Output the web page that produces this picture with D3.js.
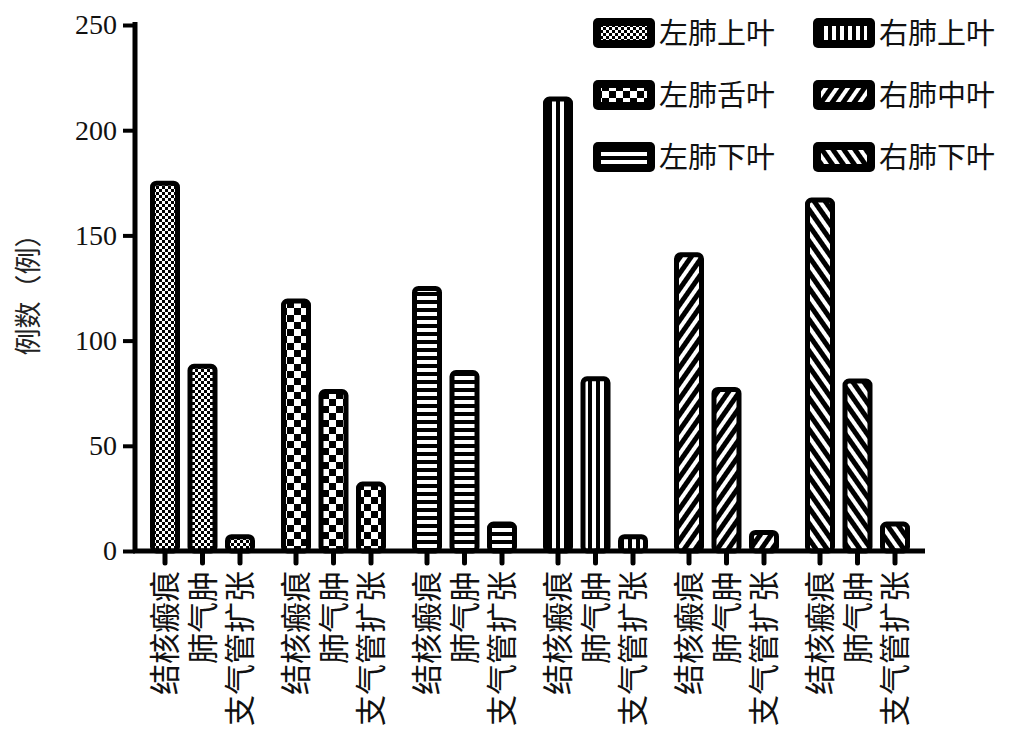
<!DOCTYPE html>
<html><head><meta charset="utf-8">
<script src="https://cdn.jsdelivr.net/npm/d3@7"></script>
<style>body{margin:0;background:#fff}</style>
</head><body><svg id="c" width="1023" height="742"></svg>
<script>
var groups = ["左肺上叶", "左肺舌叶", "左肺下叶", "右肺上叶", "右肺中叶", "右肺下叶"];
var kinds = ["结核瘢痕", "肺气肿", "支气管扩张"];
var values = [
  [176, 89, 8],
  [120, 77, 33],
  [126, 86, 14],
  [216, 83, 8],
  [142, 78, 10],
  [168, 82, 14]
];
var yTicks = [0, 50, 100, 150, 200, 250];
var patIds = ["p0", "p1", "p2", "p3", "p4", "p5"];
var legendOrder = [0, 3, 1, 4, 2, 5];

var svg = d3.select("#c");
var defs = svg.append("defs");
var serif = "'Liberation Serif','Noto Sans CJK SC',serif";

// 填充图案
function pat(id, w, h, draw) {
  var p = defs.append("pattern").attr("id", id).attr("patternUnits", "userSpaceOnUse")
    .attr("width", w).attr("height", h);
  p.append("rect").attr("width", w).attr("height", h).attr("fill", "#fff");
  draw(p);
}
pat("p0", 6, 6, function(p) {
  p.append("rect").attr("width", 3).attr("height", 3).attr("fill", "#000");
  p.append("rect").attr("x", 3).attr("y", 3).attr("width", 3).attr("height", 3).attr("fill", "#000");
});
pat("p1", 14, 14, function(p) {
  p.append("rect").attr("width", 7).attr("height", 7).attr("fill", "#000");
  p.append("rect").attr("x", 7).attr("y", 7).attr("width", 7).attr("height", 7).attr("fill", "#000");
});
pat("p2", 8, 8, function(p) {
  p.append("rect").attr("y", 4).attr("width", 8).attr("height", 4).attr("fill", "#000");
});
pat("p3", 8, 8, function(p) {
  p.append("rect").attr("x", 4).attr("width", 4).attr("height", 8).attr("fill", "#000");
});
defs.append("pattern").attr("id", "p4").attr("patternUnits", "userSpaceOnUse")
  .attr("width", 9).attr("height", 9).attr("patternTransform", "rotate(35)")
  .call(function(p) {
    p.append("rect").attr("width", 9).attr("height", 9).attr("fill", "#fff");
    p.append("rect").attr("width", 5).attr("height", 9).attr("fill", "#000");
  });
defs.append("pattern").attr("id", "p5").attr("patternUnits", "userSpaceOnUse")
  .attr("width", 9).attr("height", 9).attr("patternTransform", "rotate(-35)")
  .call(function(p) {
    p.append("rect").attr("width", 9).attr("height", 9).attr("fill", "#fff");
    p.append("rect").attr("width", 5).attr("height", 9).attr("fill", "#000");
  });

var x0 = 135, x1 = 925;
var y = d3.scaleLinear().domain([0, 250]).range([551, 25]);
var xg = d3.scaleBand().domain(d3.range(groups.length)).range([150, 150 + 131 * 6]);
var xk = d3.scaleBand().domain(d3.range(kinds.length)).range([0, 105]).paddingInner(0.2).paddingOuter(0);

// 柱子
values.forEach(function(vs, g) {
  vs.forEach(function(v, k) {
    var bx = xg(g) + xk(k), cx = bx + xk.bandwidth() / 2;
    svg.append("rect").attr("x", bx + 2.5).attr("y", y(v) + 2.5)
      .attr("width", xk.bandwidth() - 5).attr("height", Math.max(0, y(0) - y(v) - 2.5))
      .attr("rx", 4).attr("fill", "url(#" + patIds[g] + ")")
      .attr("stroke", "#000").attr("stroke-width", 5);
    svg.append("line").attr("x1", cx).attr("x2", cx).attr("y1", 551).attr("y2", 563)
      .attr("stroke", "#000").attr("stroke-width", 5).attr("stroke-linecap", "round");
    svg.append("text").attr("transform", "translate(" + (cx + 11) + ",571) rotate(-90)")
      .attr("text-anchor", "end").attr("font-family", serif).attr("font-size", 31)
      .attr("fill", "#111").text(kinds[k]);
  });
});

// 坐标轴
var yAxis = d3.axisLeft(y).tickValues(yTicks).tickSize(12).tickPadding(6);
var ga = svg.append("g").attr("transform", "translate(" + x0 + ",0)").call(yAxis);
ga.select(".domain").attr("stroke-width", 5).attr("d", "M0,22V553");
ga.selectAll(".tick line").attr("stroke-width", 4);
ga.selectAll(".tick text").attr("font-family", serif).attr("font-size", 28).attr("fill", "#111");
svg.append("line").attr("x1", x0 - 2).attr("x2", x1).attr("y1", 551).attr("y2", 551)
  .attr("stroke", "#000").attr("stroke-width", 5);
svg.append("text").attr("transform", "translate(38,288) rotate(-90)")
  .attr("text-anchor", "middle").attr("font-family", serif).attr("font-size", 27)
  .attr("fill", "#222").text("例数（例）");

// 图例
legendOrder.forEach(function(g, i) {
  var lx = 593 + (i % 2) * 220, ly = 18 + Math.floor(i / 2) * 62;
  svg.append("rect").attr("x", lx).attr("y", ly).attr("width", 62).attr("height", 30)
    .attr("rx", 5).attr("fill", "#000");
  svg.append("rect").attr("x", lx + 8).attr("y", ly + 8).attr("width", 46).attr("height", 14)
    .attr("fill", "url(#" + patIds[g] + ")");
  svg.append("text").attr("x", lx + 66).attr("y", ly + 26).attr("font-family", serif)
    .attr("font-size", 29).attr("fill", "#111").text(groups[g]);
});
</script></body></html>
